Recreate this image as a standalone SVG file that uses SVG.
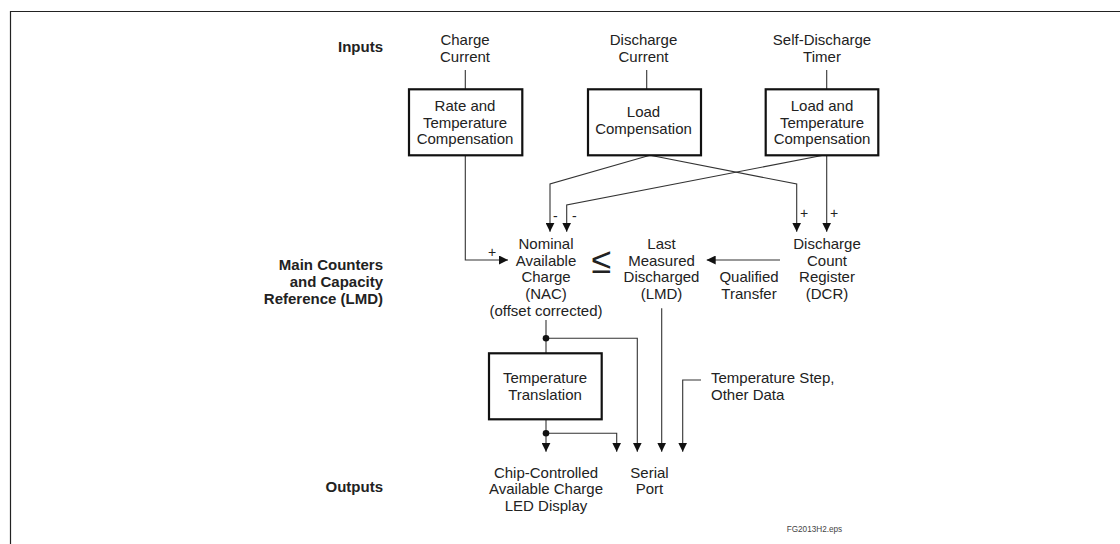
<svg xmlns="http://www.w3.org/2000/svg" width="1120" height="544" viewBox="0 0 1120 544">
<style>
  text { font-family: "Liberation Sans", Arial, sans-serif; font-size: 15px; fill: #222; }
  .c { text-anchor: middle; }
  .lbl { font-weight: bold; text-anchor: end; }
  .box { fill: #fff; stroke: #111; stroke-width: 2.2; }
  .ln { fill: none; stroke: #333; stroke-width: 1.1; }
  .sg { font-size: 14px; }
</style>
<defs>
  <marker id="ah" viewBox="0 0 10 10" refX="10" refY="5" markerWidth="9" markerHeight="9" markerUnits="userSpaceOnUse" orient="auto">
    <path d="M0,0 L10,5 L0,10 z" fill="#111"/>
  </marker>
</defs>
<rect width="1120" height="544" fill="#fff"/>
<path d="M10.5,544 V11.5 H1120" fill="none" stroke="#222" stroke-width="1.2"/>

<g id="row-labels">
  <text class="lbl" x="383" y="52">Inputs</text>
  <text class="lbl" x="383" y="270">Main Counters</text>
  <text class="lbl" x="383" y="287">and Capacity</text>
  <text class="lbl" x="383" y="304">Reference (LMD)</text>
  <text class="lbl" x="383" y="491.5">Outputs</text>
</g>

<g id="connectors">
  <path class="ln" d="M465.3,70 V89.3"/>
  <path class="ln" d="M646.7,70 V89.3"/>
  <path class="ln" d="M826.7,70 V89.3"/>
  <path class="ln" d="M465.3,155.3 V260 H508" marker-end="url(#ah)"/>
  <path class="ln" d="M650,155.3 L550,184 V231.7" marker-end="url(#ah)"/>
  <path class="ln" d="M650,155.3 L796.7,184 V231.7" marker-end="url(#ah)"/>
  <path class="ln" d="M823.3,155.3 L566.7,205 V231.7" marker-end="url(#ah)"/>
  <path class="ln" d="M826.7,155.3 V231.7" marker-end="url(#ah)"/>
  <path class="ln" d="M780,260 H706.7" marker-end="url(#ah)"/>
  <path class="ln" d="M546,320 V353.3"/>
  <path class="ln" d="M546,338.3 H637.3 V451.7" marker-end="url(#ah)"/>
  <path class="ln" d="M546,419.3 V451.7" marker-end="url(#ah)"/>
  <path class="ln" d="M546,433.3 H616.7 V451.7" marker-end="url(#ah)"/>
  <path class="ln" d="M661.7,308.3 V451.7" marker-end="url(#ah)"/>
  <path class="ln" d="M701,380 H682.7 V451.7" marker-end="url(#ah)"/>
  <circle cx="546" cy="338.3" r="3.3" fill="#111"/>
  <circle cx="546" cy="433.3" r="3.3" fill="#111"/>
  <text class="sg" x="488" y="257">+</text>
  <text class="sg" x="553" y="221">-</text>
  <text class="sg" x="572" y="221">-</text>
  <text class="sg" x="800" y="218">+</text>
  <text class="sg" x="830" y="218">+</text>
</g>

<g id="in-charge">
  <text class="c" x="465" y="45">Charge</text>
  <text class="c" x="465" y="61.7">Current</text>
</g>
<g id="in-discharge">
  <text class="c" x="643.5" y="45">Discharge</text>
  <text class="c" x="643.5" y="61.7">Current</text>
</g>
<g id="in-selfdischarge">
  <text class="c" x="822" y="45">Self-Discharge</text>
  <text class="c" x="822" y="61.7">Timer</text>
</g>

<g id="box-rate">
  <rect class="box" x="409" y="89.3" width="113.3" height="66"/>
  <text class="c" x="465" y="111">Rate and</text>
  <text class="c" x="465" y="127.7">Temperature</text>
  <text class="c" x="465" y="144.3">Compensation</text>
</g>
<g id="box-load">
  <rect class="box" x="588" y="89.3" width="113" height="66"/>
  <text class="c" x="643.5" y="117.3">Load</text>
  <text class="c" x="643.5" y="134">Compensation</text>
</g>
<g id="box-loadtemp">
  <rect class="box" x="765.7" y="89.3" width="112.6" height="66"/>
  <text class="c" x="822" y="111">Load and</text>
  <text class="c" x="822" y="127.7">Temperature</text>
  <text class="c" x="822" y="144.3">Compensation</text>
</g>

<g id="nac">
  <text class="c" x="546" y="249">Nominal</text>
  <text class="c" x="546" y="265.7">Available</text>
  <text class="c" x="546" y="282.3">Charge</text>
  <text class="c" x="546" y="299">(NAC)</text>
  <text class="c" x="546" y="315.7">(offset corrected)</text>
</g>
<g id="leq">
  <text class="c" x="601.5" y="273" style="font-size:36px">≤</text>
</g>
<g id="lmd">
  <text class="c" x="661.5" y="249">Last</text>
  <text class="c" x="661.5" y="265.7">Measured</text>
  <text class="c" x="661.5" y="282.3">Discharged</text>
  <text class="c" x="661.5" y="299">(LMD)</text>
</g>
<g id="qualified">
  <text class="c" x="749" y="282.3">Qualified</text>
  <text class="c" x="749" y="299">Transfer</text>
</g>
<g id="dcr">
  <text class="c" x="827" y="249">Discharge</text>
  <text class="c" x="827" y="265.7">Count</text>
  <text class="c" x="827" y="282.3">Register</text>
  <text class="c" x="827" y="299">(DCR)</text>
</g>

<g id="box-temptrans">
  <rect class="box" x="489" y="353.3" width="112.7" height="66"/>
  <text class="c" x="545" y="383.3">Temperature</text>
  <text class="c" x="545" y="400">Translation</text>
</g>
<g id="tempstep">
  <text x="711" y="383.3">Temperature Step,</text>
  <text x="711" y="400">Other Data</text>
</g>

<g id="out-led">
  <text class="c" x="546" y="477.5">Chip-Controlled</text>
  <text class="c" x="546" y="494.2">Available Charge</text>
  <text class="c" x="546" y="510.9">LED Display</text>
</g>
<g id="out-serial">
  <text class="c" x="649.5" y="477.5">Serial</text>
  <text class="c" x="649.5" y="494.2">Port</text>
</g>

<text x="786.7" y="531.5" style="font-size:8.2px;fill:#444">FG2013H2.eps</text>
</svg>
